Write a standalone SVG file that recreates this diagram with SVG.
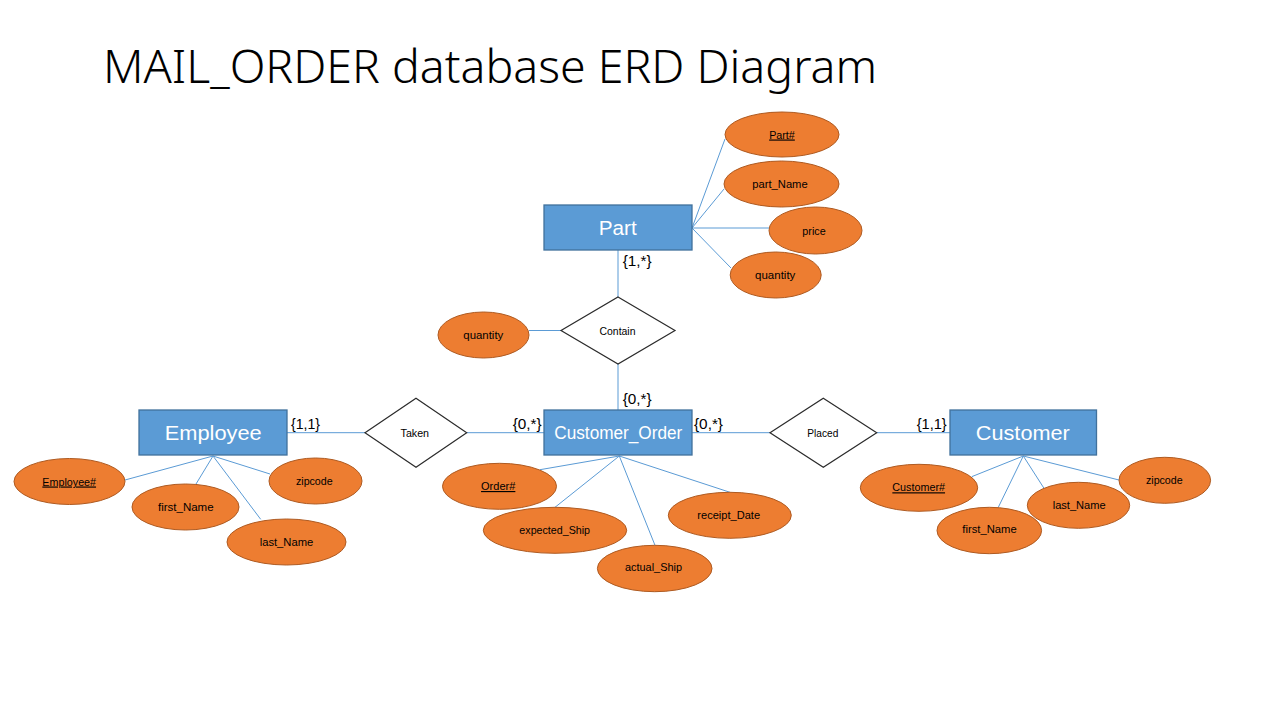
<svg xmlns="http://www.w3.org/2000/svg" width="1280" height="720" viewBox="0 0 1280 720">
<style>
.ent rect{fill:#5B9BD5;stroke:#41719C;stroke-width:1.3}
.ent text{fill:#FFFFFF;font-family:"Liberation Sans",Arial,sans-serif;font-size:20.5px;text-anchor:middle}
.att ellipse{fill:#ED7D31;stroke:#AE5A21;stroke-width:1}
.att text{fill:#000;font-family:"Liberation Sans",Arial,sans-serif;font-size:11.5px;text-anchor:middle}
.key text{text-decoration:underline}
.rel polygon{fill:#FFFFFF;stroke:#2B2B2B;stroke-width:1.2}
.rel text{fill:#000;font-family:"Liberation Sans",Arial,sans-serif;font-size:11.5px;text-anchor:middle}
.card{fill:#000;font-family:"Liberation Sans",Arial,sans-serif;font-size:15px}
#connectors line{stroke:#5B9BD5;stroke-width:1}
.title{fill:#000;font-family:"Noto Sans","Liberation Sans",Arial,sans-serif;font-weight:300;font-size:46px}
</style>
<rect x="0" y="0" width="1280" height="720" fill="#FFFFFF"/>
<text class="title" x="103" y="83" textLength="774" lengthAdjust="spacingAndGlyphs">MAIL_ORDER database ERD Diagram</text>

<g id="connectors">
  <line x1="692" y1="228" x2="725" y2="139"/>
  <line x1="692" y1="228" x2="724" y2="189"/>
  <line x1="692" y1="228" x2="769" y2="228"/>
  <line x1="692" y1="228" x2="731" y2="268"/>
  <line x1="618" y1="250" x2="618" y2="297"/>
  <line x1="618" y1="364" x2="618" y2="410"/>
  <line x1="529" y1="330.5" x2="561" y2="330.5"/>
  <line x1="287" y1="432.7" x2="365" y2="432.7"/>
  <line x1="467" y1="432.7" x2="544" y2="432.7"/>
  <line x1="692" y1="432.7" x2="770" y2="432.7"/>
  <line x1="876.7" y1="432.7" x2="950" y2="432.7"/>
  <line x1="213" y1="456" x2="125" y2="480"/>
  <line x1="213" y1="456" x2="196" y2="484"/>
  <line x1="213" y1="456" x2="260.7" y2="519.3"/>
  <line x1="213" y1="456" x2="270" y2="474"/>
  <line x1="619.3" y1="456" x2="540" y2="469.7"/>
  <line x1="619.3" y1="456" x2="555" y2="507.3"/>
  <line x1="619.3" y1="456" x2="655" y2="545.3"/>
  <line x1="619.3" y1="456" x2="730" y2="492.3"/>
  <line x1="1023.3" y1="456" x2="971.7" y2="476.7"/>
  <line x1="1023.3" y1="456" x2="998.3" y2="507.3"/>
  <line x1="1023.3" y1="456" x2="1044" y2="488.3"/>
  <line x1="1023.3" y1="456" x2="1119" y2="480"/>
</g>

<g id="cardinalities">
  <text class="card" x="622.7" y="266" textLength="29" lengthAdjust="spacingAndGlyphs">{1,*}</text>
  <text class="card" x="622.7" y="404" textLength="29" lengthAdjust="spacingAndGlyphs">{0,*}</text>
  <text class="card" x="291" y="428.5" textLength="29" lengthAdjust="spacingAndGlyphs">{1,1}</text>
  <text class="card" x="512.7" y="428.5" textLength="29" lengthAdjust="spacingAndGlyphs">{0,*}</text>
  <text class="card" x="694" y="428.5" textLength="29" lengthAdjust="spacingAndGlyphs">{0,*}</text>
  <text class="card" x="916.7" y="428.5" textLength="30" lengthAdjust="spacingAndGlyphs">{1,1}</text>
</g>

<g id="part" class="ent">
  <rect x="544" y="205" width="148" height="45"/>
  <text x="617.7" y="234.5" textLength="38" lengthAdjust="spacingAndGlyphs">Part</text>
</g>
<g id="employee" class="ent">
  <rect x="139" y="410" width="148" height="45"/>
  <text x="213.2" y="440" textLength="97" lengthAdjust="spacingAndGlyphs">Employee</text>
</g>
<g id="customer_order" class="ent">
  <rect x="544" y="410" width="148" height="45"/>
  <text x="618.3" y="439" style="font-size:18px" textLength="128" lengthAdjust="spacingAndGlyphs">Customer_Order</text>
</g>
<g id="customer" class="ent">
  <rect x="950" y="410" width="146.5" height="45"/>
  <text x="1022.8" y="440" textLength="94" lengthAdjust="spacingAndGlyphs">Customer</text>
</g>

<g id="contain" class="rel">
  <polygon points="618,297 675,330.5 618,364 561,330.5"/>
  <text x="617.5" y="334.5" textLength="36" lengthAdjust="spacingAndGlyphs">Contain</text>
</g>
<g id="taken" class="rel">
  <polygon points="416,398.3 466.7,432.8 416,467.3 365,432.8"/>
  <text x="414.8" y="436.7" textLength="28.5" lengthAdjust="spacingAndGlyphs">Taken</text>
</g>
<g id="placed" class="rel">
  <polygon points="823.3,398.3 876.7,432.7 823.3,467.3 770,432.7"/>
  <text x="822.8" y="436.7" textLength="31" lengthAdjust="spacingAndGlyphs">Placed</text>
</g>

<g id="part_no" class="att key">
  <ellipse cx="782" cy="134.5" rx="57" ry="22.5"/>
  <text x="782" y="138.5" textLength="25.7" lengthAdjust="spacingAndGlyphs">Part#</text>
</g>
<g id="part_name" class="att">
  <ellipse cx="781.5" cy="184" rx="57.5" ry="23"/>
  <text x="780" y="188" textLength="55.3" lengthAdjust="spacingAndGlyphs">part_Name</text>
</g>
<g id="part_price" class="att">
  <ellipse cx="815.5" cy="230.5" rx="46.5" ry="23.5"/>
  <text x="814" y="234.5" textLength="23.3" lengthAdjust="spacingAndGlyphs">price</text>
</g>
<g id="part_quantity" class="att">
  <ellipse cx="775.7" cy="275" rx="45.5" ry="23"/>
  <text x="775.2" y="279" textLength="40.3" lengthAdjust="spacingAndGlyphs">quantity</text>
</g>
<g id="contain_quantity" class="att">
  <ellipse cx="483.5" cy="335" rx="45.5" ry="23"/>
  <text x="483.3" y="339" textLength="40" lengthAdjust="spacingAndGlyphs">quantity</text>
</g>

<g id="employee_no" class="att key">
  <ellipse cx="69.5" cy="481.5" rx="55.5" ry="23"/>
  <text x="69.2" y="485.5" textLength="53.7" lengthAdjust="spacingAndGlyphs">Employee#</text>
</g>
<g id="employee_first_name" class="att">
  <ellipse cx="185.5" cy="507" rx="53.5" ry="23"/>
  <text x="185.8" y="511" textLength="55.7" lengthAdjust="spacingAndGlyphs">first_Name</text>
</g>
<g id="employee_zipcode" class="att">
  <ellipse cx="315.5" cy="481" rx="46.5" ry="23"/>
  <text x="314.3" y="484.5" textLength="36.7" lengthAdjust="spacingAndGlyphs">zipcode</text>
</g>
<g id="employee_last_name" class="att">
  <ellipse cx="286.5" cy="542" rx="59.5" ry="23"/>
  <text x="286.5" y="545.5" textLength="53.7" lengthAdjust="spacingAndGlyphs">last_Name</text>
</g>

<g id="order_no" class="att key">
  <ellipse cx="499.5" cy="486.3" rx="57" ry="23"/>
  <text x="498.2" y="490" textLength="34.3" lengthAdjust="spacingAndGlyphs">Order#</text>
</g>
<g id="expected_ship" class="att">
  <ellipse cx="555" cy="530.3" rx="71.7" ry="23"/>
  <text x="554.7" y="534" textLength="70.7" lengthAdjust="spacingAndGlyphs">expected_Ship</text>
</g>
<g id="actual_ship" class="att">
  <ellipse cx="654.7" cy="568.5" rx="57.3" ry="23.2"/>
  <text x="653.5" y="571" textLength="57" lengthAdjust="spacingAndGlyphs">actual_Ship</text>
</g>
<g id="receipt_date" class="att">
  <ellipse cx="729.8" cy="515.3" rx="61.5" ry="23"/>
  <text x="728.7" y="519" textLength="62.7" lengthAdjust="spacingAndGlyphs">receipt_Date</text>
</g>

<g id="customer_no" class="att key">
  <ellipse cx="919" cy="487.8" rx="58.7" ry="23.5"/>
  <text x="918.7" y="491.3" textLength="52.7" lengthAdjust="spacingAndGlyphs">Customer#</text>
</g>
<g id="customer_first_name" class="att">
  <ellipse cx="989.3" cy="530.5" rx="52.3" ry="23.2"/>
  <text x="989.5" y="533" textLength="54.3" lengthAdjust="spacingAndGlyphs">first_Name</text>
</g>
<g id="customer_last_name" class="att">
  <ellipse cx="1078.5" cy="505.3" rx="51.2" ry="23"/>
  <text x="1079.2" y="509" textLength="53" lengthAdjust="spacingAndGlyphs">last_Name</text>
</g>
<g id="customer_zipcode" class="att">
  <ellipse cx="1164.8" cy="480.3" rx="45.8" ry="23"/>
  <text x="1164.3" y="484" textLength="36.7" lengthAdjust="spacingAndGlyphs">zipcode</text>
</g>
</svg>
